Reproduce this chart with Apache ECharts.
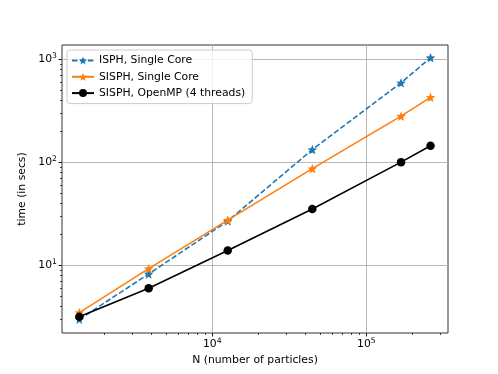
<!DOCTYPE html>
<html>
<head>
<meta charset="utf-8">
<script src="https://cdn.jsdelivr.net/npm/echarts@6/dist/echarts.min.js"></script>
<style>
  html, body { margin: 0; padding: 0; background: #fff; }
  #chart { width: 498px; height: 374px; }
</style>
</head>
<body>
<div id="chart"></div>
<script>
const particles = [1369, 3864, 12589, 44600, 168000, 261000];
const isphSingle = [2.99, 8.24, 26.9, 133, 592, 1038];
const sisphSingle = [3.47, 9.27, 27.5, 87, 281, 428];
const sisphOpenmp = [3.17, 5.98, 13.9, 35.2, 100.5, 145];

const xMajor = [1e4, 1e5];
const xMinor = [2e3, 3e3, 4e3, 5e3, 6e3, 7e3, 8e3, 9e3,
  2e4, 3e4, 4e4, 5e4, 6e4, 7e4, 8e4, 9e4, 2e5, 3e5];
const yMajor = [1e1, 1e2, 1e3];
const yMinor = [3, 4, 5, 6, 7, 8, 9, 20, 30, 40, 50, 60, 70, 80, 90,
  200, 300, 400, 500, 600, 700, 800, 900];

const xRange = [1057, 339000];
const yRange = [2.2, 1380];

// 5 point star for the matplotlib '*' marker
function starPath() {
  let d = '';
  for (let i = 0; i < 10; i++) {
    const r = i % 2 === 0 ? 10 : 4.4;
    const a = -Math.PI / 2 + i * Math.PI / 5;
    d += (i === 0 ? 'M' : 'L') + (r * Math.cos(a)).toFixed(2) + ',' + (r * Math.sin(a)).toFixed(2);
  }
  return 'path://' + d + 'Z';
}
const star = starPath();

const font = 'DejaVu Sans';
const fs = 10.8;
const pow10 = v => '{b|10}{s|' + Math.round(Math.log10(v)) + '}';
const rich = {
  b: { fontFamily: font, fontSize: fs, color: '#000' },
  s: { fontFamily: font, fontSize: 7.7, color: '#000', padding: [0, 0, 7, 0] }
};

const pairs = vals => particles.map((n, i) => [n, vals[i]]);

const chart = echarts.init(document.getElementById('chart'));
chart.setOption({
  animation: false,
  grid: {
    left: 62, right: 50, top: 45, bottom: 41,
    show: true, borderColor: '#333', borderWidth: 1, backgroundColor: 'transparent'
  },
  legend: {
    orient: 'vertical',
    left: 67, top: 50,
    padding: [5, 7, 5, 4],
    itemWidth: 22, itemHeight: 10, itemGap: 5.3, itemTextGap: 10,
    backgroundColor: 'rgba(255,255,255,0.8)',
    borderColor: '#ccc', borderWidth: 1, borderRadius: 3,
    textStyle: { fontFamily: font, fontSize: fs, lineHeight: 10, color: '#000' },
    data: ['ISPH, Single Core', 'SISPH, Single Core', 'SISPH, OpenMP (4 threads)']
  },
  xAxis: [
    {
      type: 'log', logBase: 10, min: xRange[0], max: xRange[1], position: 'bottom',
      name: 'N (number of particles)', nameLocation: 'middle', nameGap: 21,
      nameTextStyle: { fontFamily: font, fontSize: fs, color: '#000' },
      axisLine: { show: false },
      axisTick: { show: true, customValues: xMajor, length: 3.5, lineStyle: { color: '#000', width: 0.9 } },
      axisLabel: { customValues: xMajor, margin: 4, formatter: pow10, rich: rich },
      splitLine: { show: true, lineStyle: { color: '#b0b0b0', width: 0.9 } }
    },
    {
      type: 'log', logBase: 10, min: xRange[0], max: xRange[1], position: 'bottom',
      axisLine: { show: false },
      axisTick: { show: true, customValues: xMinor, length: 2, lineStyle: { color: '#000', width: 0.7 } },
      axisLabel: { show: false },
      splitLine: { show: false }
    }
  ],
  yAxis: [
    {
      type: 'log', logBase: 10, min: yRange[0], max: yRange[1], position: 'left',
      name: 'time (in secs)', nameLocation: 'middle', nameGap: 31,
      nameTextStyle: { fontFamily: font, fontSize: fs, color: '#000' },
      axisLine: { show: false },
      axisTick: { show: true, customValues: yMajor, length: 3.5, lineStyle: { color: '#000', width: 0.9 } },
      axisLabel: { customValues: yMajor, margin: 5, formatter: pow10, rich: rich },
      splitLine: { show: true, lineStyle: { color: '#b0b0b0', width: 0.9 } }
    },
    {
      type: 'log', logBase: 10, min: yRange[0], max: yRange[1], position: 'left',
      axisLine: { show: false },
      axisTick: { show: true, customValues: yMinor, length: 2, lineStyle: { color: '#000', width: 0.7 } },
      axisLabel: { show: false },
      splitLine: { show: false }
    }
  ],
  series: [
    {
      name: 'ISPH, Single Core', type: 'line', data: pairs(isphSingle),
      symbol: star, symbolSize: 9.5, showAllSymbol: true,
      lineStyle: { color: '#1f77b4', width: 1.6, type: [5.5, 2.4] },
      itemStyle: { color: '#1f77b4' }
    },
    {
      name: 'SISPH, Single Core', type: 'line', data: pairs(sisphSingle),
      symbol: star, symbolSize: 9.5, showAllSymbol: true,
      lineStyle: { color: '#ff7f0e', width: 1.6 },
      itemStyle: { color: '#ff7f0e' }
    },
    {
      name: 'SISPH, OpenMP (4 threads)', type: 'line', data: pairs(sisphOpenmp),
      symbol: 'circle', symbolSize: 8.5, showAllSymbol: true,
      lineStyle: { color: '#000', width: 1.6 },
      itemStyle: { color: '#000' }
    }
  ]
});
</script>
</body>
</html>
